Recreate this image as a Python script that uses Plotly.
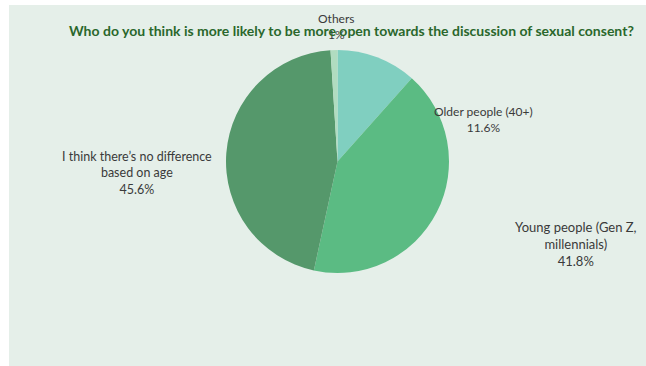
import plotly.graph_objects as go

labels = ["Older people (40+)", "Young people (Gen Z, millennials)",
          "I think there’s no difference based on age", "Others"]
label_lines = ["Older people (40+)", "Young people (Gen Z,<br>millennials)",
               "I think there’s no difference<br>based on age", "Others"]
values = [11.6, 41.8, 45.6, 1.0]
colors = ["#80cfc0", "#5bbb83", "#55986b", "#b0dcc0"]
title = "Who do you think is more likely to be more open towards the discussion of sexual consent?"

W, H = 646, 366
# label anchor positions in pixels (centre of text block)
label_pos = [(483, 119), (576, 244), (137, 172.5), (336, 26.5)]
label_sizes = [12, 13, 12.5, 12]

def px(x):
    return x / W

def py(y):
    return 1 - y / H

fig = go.Figure(go.Pie(
    labels=labels, values=values, sort=False, direction="clockwise", rotation=0,
    marker=dict(colors=colors, line=dict(width=0)),
    textinfo="none", hoverinfo="label+percent", showlegend=False,
    domain=dict(x=[px(226), px(449)], y=[py(273), py(50)]),
))

shapes = [dict(type="rect", xref="paper", yref="paper", x0=px(9), x1=1.01, y0=-0.01, y1=py(5),
               fillcolor="#e5efe9", line=dict(width=0), layer="below")]

annotations = []
for lab, v, (x, y), s in zip(label_lines, values, label_pos, label_sizes):
    annotations.append(dict(text=f"{lab}<br>{v:g}%", x=px(x), y=py(y), xref="paper", yref="paper",
                            showarrow=False, xanchor="center", yanchor="middle", align="center",
                            font=dict(family="Lato", size=s, color="#3a3a3a")))
annotations.append(dict(text=f"<b>{title}</b>", x=px(351.5), y=py(31), xref="paper", yref="paper",
                        showarrow=False, xanchor="center", yanchor="middle",
                        font=dict(family="Lato", size=14, color="#2a672c")))

fig.update_layout(width=W, height=H, margin=dict(l=0, r=0, t=0, b=0),
                  paper_bgcolor="white", plot_bgcolor="white",
                  shapes=shapes, annotations=annotations)

fig.write_html("out.html")
